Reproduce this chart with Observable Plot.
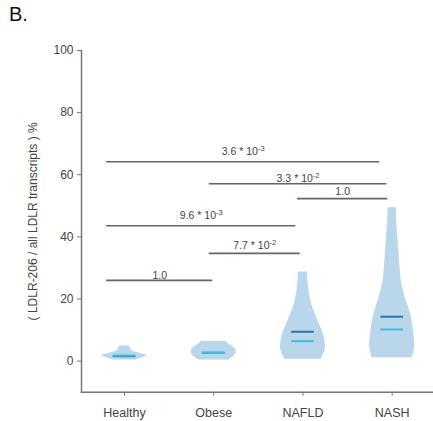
<!DOCTYPE html>
<html>
<head>
<meta charset="utf-8">
<script src="https://cdn.jsdelivr.net/npm/d3@7"></script>
<script src="https://cdn.jsdelivr.net/npm/@observablehq/plot@0.6"></script>
<style>
  html, body { margin: 0; padding: 0; background: #fff; }
  #wrap { position: relative; width: 433px; height: 421px; font-family: "Liberation Sans", Arial, sans-serif; }
  #title { position: absolute; left: 9px; top: 3px; font-size: 20px; color: #111; }
  #chart { position: absolute; left: 0; top: 0; }
</style>
</head>
<body>
<div id="wrap">
  <div id="chart"></div>
  <div id="title">B.</div>
</div>
<script>
// ---- data ----
const groups = ["Healthy", "Obese", "NAFLD", "NASH"];

// violin outlines: value (%) and relative density (max = 1)
const healthyV = [0.4, 0.6, 1.2, 1.8, 2.4, 3.0, 4.0, 4.9];
const healthyD = [0.52, 0.57, 0.83, 1.0, 0.74, 0.43, 0.26, 0.24];
const obeseV = [0.4, 1.0, 1.8, 2.8, 3.7, 4.7, 5.5, 6.3];
const obeseD = [0.67, 0.8, 0.93, 1.0, 0.98, 0.84, 0.67, 0.56];
const nafldV = [0.6, 1.5, 3, 5, 7, 9, 10.5, 12.5, 14.5, 17, 19, 22, 26, 28.7];
const nafldD = [0.81, 0.87, 0.96, 1.0, 0.96, 0.9, 0.81, 0.7, 0.58, 0.45, 0.36, 0.28, 0.22, 0.2];
const nashV = [1.1, 3, 5, 8, 11, 14, 17, 19, 22, 26, 30, 35, 40, 45, 49.4];
const nashD = [0.9, 0.96, 1.0, 0.97, 0.92, 0.85, 0.74, 0.64, 0.52, 0.4, 0.35, 0.3, 0.25, 0.2, 0.18];

// summary lines
const means = [1.6, 2.7, 9.46, 14.3];
const medians = [1.8, 2.7, 6.44, 10.2];

// comparison brackets (x in group-index units, y in %)
const bracketX1 = [-0.20, 0.95, 1.94, -0.20, 0.95, -0.20];
const bracketX2 = [2.86, 2.94, 2.95, 1.92, 1.97, 0.99];
const bracketY = [64.2, 57.1, 52.3, 43.6, 34.7, 26.0];
const bracketLabelY = [67.6, 58.7, 54.5, 46.7, 37.1, 27.6];
const bracketLabels = ["3.6 * 10^-3", "3.3 * 10^-2", "1.0", "9.6 * 10^-3", "7.7 * 10^-2", "1.0"];

const yTicks = [0, 20, 40, 60, 80, 100];
const yLabel = "( LDLR-206 / all LDLR transcripts ) %";

// ---- build tables ----
const violinSets = [[healthyV, healthyD], [obeseV, obeseD], [nafldV, nafldD], [nashV, nashD]];
const violin = [];
violinSets.forEach(([vs, ds], g) => vs.forEach((v, i) => violin.push({g, v, d: ds[i]})));
const HALF = 0.252;   // max half-width of a violin in group units
const LINE = 0.127;   // half-length of the summary lines

const summary = groups.map((name, g) => ({g, mean: means[g], median: medians[g]}));
const brackets = bracketLabels.map((label, i) => ({
  x1: bracketX1[i], x2: bracketX2[i], y: bracketY[i], ly: bracketLabelY[i], label
}));

const plot = Plot.plot({
  width: 433,
  height: 421,
  marginLeft: 81,
  marginRight: 0,
  marginTop: 50,
  marginBottom: 29.3,
  style: {fontFamily: "Liberation Sans, Arial, sans-serif", fontSize: "12px", color: "#444", background: "white"},
  x: {type: "linear", domain: [-0.482, 3.463]},
  y: {domain: [-10, 100]},
  marks: [
    Plot.areaX(violin, {
      y: "v",
      x1: d => d.g - d.d * HALF,
      x2: d => d.g + d.d * HALF,
      z: "g",
      fill: "#bad6eb",
      curve: "catmull-rom"
    }),
    Plot.ruleY(summary, {y: "mean", x1: d => d.g - LINE, x2: d => d.g + LINE, stroke: "#2f72b3", strokeWidth: 2}),
    Plot.ruleY(summary, {y: "median", x1: d => d.g - LINE, x2: d => d.g + LINE, stroke: "#3cc0dc", strokeWidth: 2}),
    Plot.ruleY(brackets, {y: "y", x1: "x1", x2: "x2", stroke: "#666", strokeWidth: 1.6}),
    Plot.text(brackets, {
      x: d => (d.x1 + d.x2) / 2, y: "ly", text: "label",
      fontSize: 10.5, fill: "#444", textAnchor: "middle"
    }),
    Plot.axisY({
      ticks: yTicks, tickSize: 4, tickPadding: 4, fontSize: 12, stroke: "#777",
      label: yLabel, labelAnchor: "center", labelOffset: 53, labelArrow: "none"
    }),
    Plot.axisX({
      ticks: [0, 1, 2, 3], tickFormat: i => groups[i], tickSize: 4, tickPadding: 12,
      fontSize: 12.5, stroke: "#777", label: null
    }),
    Plot.frame({anchor: "left", stroke: "#777", strokeWidth: 1.5}),
    Plot.frame({anchor: "bottom", stroke: "#777", strokeWidth: 1.5})
  ]
});

// render superscripts for the "10^-n" labels
plot.querySelectorAll("text").forEach(t => {
  const s = t.textContent;
  if (s.includes("^")) {
    const [base, sup] = s.split("^");
    const target = t.querySelector("tspan") || t;
    target.textContent = base;
    const ts = document.createElementNS("http://www.w3.org/2000/svg", "tspan");
    ts.setAttribute("font-size", "7.5");
    ts.setAttribute("dy", "-4");
    ts.textContent = sup;
    target.appendChild(ts);
  }
});

document.getElementById("chart").appendChild(plot);
</script>
</body>
</html>
